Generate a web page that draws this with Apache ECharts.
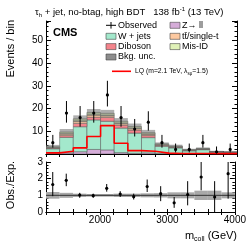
<!DOCTYPE html>
<html><head><meta charset="utf-8">
<script src="https://cdn.jsdelivr.net/npm/echarts@6/dist/echarts.min.js"></script>
<style>html,body{margin:0;padding:0;background:#fff}#c{width:249px;height:242px}</style>
</head><body><div id="c"></div>
<script>
// ---- data ----
const binEdges = [1200,1400,1600,1800,2000,2200,2400,2600,2800,3000,3200,3400,3600,3800,4000];
const zll    = [0.3,0.5,1.0,2.0,1.8,0.6,0.3,0.5,0.2,0.1,0.1,0.1,0.05,0.05];
const wjets  = [2.0,6.8,11.0,13.0,12.6,10.8,8.9,6.7,3.2,2.6,1.3,1.8,0.8,0.6];
const diboson= [0.3,0.8,1.5,1.2,1.7,1.3,1.3,0.9,0.4,0.3,0.2,0.2,0.1,0.1];
const ttbar  = [0.3,0.8,1.0,1.0,0.8,0.8,0.8,0.7,0.3,0.2,0.1,0.1,0.05,0.05];
const misid  = [0.3,0.8,1.0,1.1,1.0,0.9,0.8,0.6,0.4,0.3,0.2,0.2,0.1,0.1];
const bkgUnc = [0.8,1.3,1.5,1.5,1.5,1.4,1.3,1.2,0.6,0.6,0.4,0.5,0.3,0.2];
const lq     = [0.5,1.2,2.7,7.7,12.5,4.7,1.5,1.2,0.4,0.2,0.2,0.2,0.15,0.15];
const observed = [5,18,16,18,26,16,11,14,5,2,2,5,1,2];
const obsLo    = [2.8,13.8,12.0,13.8,20.9,12.0,7.7,10.3,2.8,0.7,0.7,2.8,0.2,0.7];
const obsHi    = [8.4,23.3,21.1,23.3,32.2,21.1,15.4,18.8,8.4,4.6,4.6,8.4,3.3,4.6];
const ratio    = [1.65,1.9,1.02,0.98,1.42,1.08,0.92,1.53,1.1,0.55,1.05,2.1,0.9,2.3];
const ratioLo  = [0.95,1.55,0.85,0.85,1.22,0.9,0.75,1.2,0.65,0.25,0.4,1.3,0.0,0.8];
const ratioHi  = [2.4,2.3,1.15,1.1,1.68,1.25,1.1,1.95,1.55,0.9,1.85,3.1,1.85,3.1];
const ratioUnc = [0.2,0.15,0.1,0.08,0.08,0.1,0.1,0.12,0.13,0.18,0.18,0.28,0.28,0.18];
const yTicksTop = [10,20,30,40,50];
const xTickLabels = [2000,3000,4000];

const components = [
  {name:'Z→ll', vals:zll, color:'#d5acd8'},
  {name:'W + jets', vals:wjets, color:'#a3e8cc'},
  {name:'Diboson', vals:diboson, color:'#f4848c'},
  {name:'tt/single-t', vals:ttbar, color:'#fdc9a0'},
  {name:'Mis-ID', vals:misid, color:'#e0f2b8'}
];

const FONT = 'Liberation Sans, Arial, sans-serif';
const chart = echarts.init(document.getElementById('c'), null, {renderer:'canvas'});

function rectItem(color, stroke, lw, opacity){
  return function(params, api){
    const p0 = api.coord([api.value(0), api.value(3)]);
    const p1 = api.coord([api.value(1), api.value(2)]);
    return {type:'rect', shape:{x:p0[0], y:p0[1], width:p1[0]-p0[0], height:p1[1]-p0[1]},
      style:{fill:color, stroke:stroke, lineWidth:lw, opacity:opacity}};
  };
}
function errItem(params, api){
  const c = api.value(0);
  const pv = api.coord([c, api.value(1)]);
  const pl = api.coord([c, api.value(2)]);
  const ph = api.coord([c, api.value(3)]);
  return {type:'group', children:[
    {type:'line', shape:{x1:pv[0], y1:pl[1], x2:pv[0], y2:ph[1]}, style:{stroke:'#000', lineWidth:1}},
    {type:'circle', shape:{cx:pv[0], cy:pv[1], r:1.6}, style:{fill:'#000'}}
  ]};
}

const series = [];
let cum = binEdges.slice(0,-1).map(()=>0);
components.forEach(comp=>{
  const data = comp.vals.map((v,i)=>{const d=[binEdges[i],binEdges[i+1],cum[i],cum[i]+v]; return d;});
  cum = cum.map((c,i)=>c+comp.vals[i]);
  series.push({type:'custom', xAxisIndex:0, yAxisIndex:0, clip:true, z:2,
    renderItem:rectItem(comp.color,'#555',0.5,1), encode:{x:[0,1],y:[2,3]}, data});
});
const total = cum;
series.push({type:'custom', xAxisIndex:0, yAxisIndex:0, clip:true, z:3,
  renderItem:rectItem('rgba(110,110,110,0.55)',null,0,1), encode:{x:[0,1],y:[2,3]},
  data: total.map((t,i)=>[binEdges[i],binEdges[i+1],t-bkgUnc[i],t+bkgUnc[i]])});
series.push({type:'line', xAxisIndex:0, yAxisIndex:0, step:'end', symbol:'none', z:4,
  lineStyle:{color:'#ff0000', width:1.6}, clip:true,
  data: binEdges.map((e,i)=>[e, lq[Math.min(i, lq.length-1)]])});
series.push({type:'custom', xAxisIndex:0, yAxisIndex:0, clip:true, z:5, renderItem:errItem,
  encode:{x:0,y:[1,2,3]},
  data: observed.map((v,i)=>[(binEdges[i]+binEdges[i+1])/2, v, obsLo[i], obsHi[i]])});
// ratio panel
series.push({type:'custom', xAxisIndex:2, yAxisIndex:2, clip:true, z:2,
  renderItem:rectItem('#a8a8a8',null,0,1), encode:{x:[0,1],y:[2,3]},
  data: ratioUnc.map((u,i)=>[binEdges[i],binEdges[i+1],1-u,1+u])});
series.push({type:'line', xAxisIndex:2, yAxisIndex:2, symbol:'none', z:3,
  lineStyle:{color:'#333', width:1}, data:[[binEdges[0],1],[binEdges[binEdges.length-1],1]]});
series.push({type:'custom', xAxisIndex:2, yAxisIndex:2, clip:true, z:5, renderItem:errItem,
  encode:{x:0,y:[1,2,3]},
  data: ratio.map((v,i)=>[(binEdges[i]+binEdges[i+1])/2, v, ratioLo[i], ratioHi[i]])});

const axLine = {show:true, lineStyle:{color:'#000', width:1}};
function xAx(grid, pos, labels){
  return {type:'value', gridIndex:grid, position:pos, min:1200, max:4000, interval:200,
    axisLine:axLine, splitLine:{show:false},
    axisTick:{show:true, inside:true, length:3, lineStyle:{color:'#000'}},
    axisLabel:{show:labels, margin:3, color:'#000', fontFamily:FONT, fontSize:10,
      formatter:v=> xTickLabels.includes(v) ? String(v) : ''}};
}
function yAx(grid, pos, labels, max, interval, fmt){
  return {type:'value', gridIndex:grid, position:pos, min:0, max:max, interval:interval,
    axisLine:axLine, splitLine:{show:false},
    axisTick:{show:true, inside:true, length:5, lineStyle:{color:'#000'}},
    minorTick:{show:true, splitNumber:5, length:2.5, lineStyle:{color:'#000'}},
    axisLabel:{show:labels, margin:3, color:'#000', fontFamily:FONT, fontSize:10, formatter:fmt}};
}

function leg(x,y,color,label){
  return [
    {type:'rect', shape:{x:x, y:y-3, width:10, height:6}, style:{fill:color, stroke:'#444', lineWidth:0.6}},
    {type:'text', x:x+12, y:y, style:{text:label, fill:'#000', font:'9px '+FONT, verticalAlign:'middle', align:'left'}}
  ];
}

const graphics = [
  {type:'text', x:35, y:12, style:{text:'{a|τ}{s|h}{a| + jet, no-btag, high BDT   138 fb}{p|-1}{a| (13 TeV)}',
    verticalAlign:'middle', align:'left',
    rich:{a:{font:'9.5px '+FONT, fill:'#000', lineHeight:12, verticalAlign:'middle'},
          s:{font:'6px '+FONT, fill:'#000', lineHeight:6, verticalAlign:'bottom'},
          p:{font:'6px '+FONT, fill:'#000', lineHeight:6, verticalAlign:'top'}}}},
  {type:'text', x:53, y:33, style:{text:'CMS', font:'bold 11px '+FONT, fill:'#000', verticalAlign:'middle'}},
  // observed legend entry
  {type:'line', shape:{x1:106, y1:25.3, x2:116, y2:25.3}, style:{stroke:'#000', lineWidth:1}},
  {type:'line', shape:{x1:111, y1:22, x2:111, y2:28.6}, style:{stroke:'#000', lineWidth:1}},
  {type:'text', x:118, y:25.3, style:{text:'Observed', fill:'#000', font:'9px '+FONT, verticalAlign:'middle'}},
  ...leg(106,36.3,'#a3e8cc','W + jets'),
  ...leg(106,46.6,'#f4848c','Diboson'),
  ...leg(106,57,'#8c8c8c','Bkg. unc.'),
  ...leg(170,25.3,'#d5acd8','Z→ ll'),
  ...leg(170,36.3,'#fdc9a0','tt̄/single-t'),
  ...leg(170,46.6,'#e0f2b8','Mis-ID'),
  {type:'line', shape:{x1:112, y1:71.3, x2:131, y2:71.3}, style:{stroke:'#ff0000', lineWidth:1.6}},
  {type:'text', x:135, y:71.3, style:{text:'{a|LQ (m=2.1 TeV, λ}{s|sμ}{a|=1.5)}', verticalAlign:'middle',
    rich:{a:{font:'6.8px '+FONT, fill:'#000', lineHeight:9, verticalAlign:'middle'},
          s:{font:'4.5px '+FONT, fill:'#000', lineHeight:5, verticalAlign:'bottom'}}}},
  // axis titles
  {type:'text', x:11, y:20, rotation:Math.PI/2, style:{text:'Events / bin', font:'11px '+FONT, fill:'#000', align:'right', verticalAlign:'middle'}},
  {type:'text', x:11, y:185, rotation:Math.PI/2, style:{text:'Obs./Exp.', font:'11px '+FONT, fill:'#000', align:'center', verticalAlign:'middle'}},
  {type:'text', x:237, y:236, style:{text:'{a|m}{s|coll}{a| (GeV)}', align:'right', verticalAlign:'middle',
    rich:{a:{font:'11px '+FONT, fill:'#000', lineHeight:14, verticalAlign:'middle'},
          s:{font:'7px '+FONT, fill:'#000', lineHeight:8, verticalAlign:'bottom'}}}}
];

chart.setOption({
  animation:false,
  grid:[{left:46, right:12, top:21, height:133},{left:46, right:12, top:162, height:50}],
  xAxis:[xAx(0,'bottom',false), xAx(0,'top',false), xAx(1,'bottom',true), xAx(1,'top',false)],
  yAxis:[yAx(0,'left',true,58.5,10,v=>yTicksTop.includes(v)?String(v):''), yAx(0,'right',false,58.5,10),
         yAx(1,'left',true,3,1,v=>String(v)), yAx(1,'right',false,3,1)],
  series:series,
  graphic:graphics
});
</script></body></html>
